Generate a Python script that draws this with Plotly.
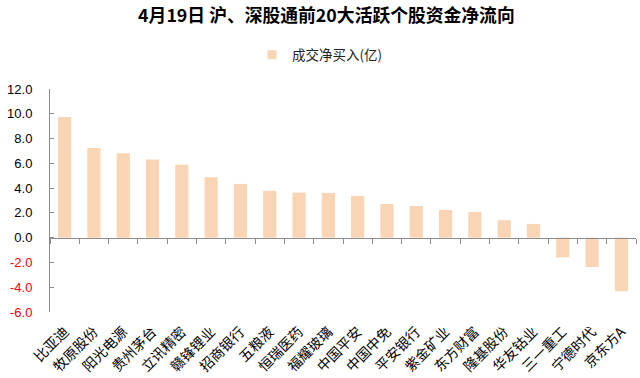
import plotly.graph_objects as go

categories = ["比亚迪", "牧原股份", "阳光电源", "贵州茅台", "立讯精密", "赣锋锂业", "招商银行",
              "五粮液", "恒瑞医药", "福耀玻璃", "中国平安", "中国中免", "平安银行", "紫金矿业",
              "东方财富", "隆基股份", "华友钴业", "三一重工", "宁德时代", "京东方A"]
net_buy = [9.73, 7.23, 6.82, 6.31, 5.88, 4.88, 4.34, 3.78, 3.64, 3.61, 3.37, 2.72, 2.56,
           2.24, 2.08, 1.41, 1.11, -1.59, -2.37, -4.33]
series_name = "成交净买入(亿)"
title_text = "4月19日 沪、深股通前20大活跃个股资金净流向"
y_tick_vals = [12, 10, 8, 6, 4, 2, 0, -2, -4, -6]
y_tick_text = ["12.0", "10.0", "8.0", "6.0", "4.0", "2.0", "0.0", "-2.0", "-4.0", "-6.0"]

bar_color = "#F9D5B5"
axis_color = "#8C8C8C"
cjk = "Noto Sans CJK SC"

ticktext = [t if v >= 0 else f'<span style="color:#FF0000">{t}</span>'
            for v, t in zip(y_tick_vals, y_tick_text)]

fig = go.Figure()
fig.add_trace(go.Bar(x=categories, y=net_buy, name=series_name, marker_color=bar_color,
                     marker_line_width=0, showlegend=False))
# legend entry + carrier for the zero-line axis (no visible points)
fig.add_trace(go.Scatter(x=categories, y=[None] * len(categories), xaxis="x2", mode="markers",
                         name=series_name, showlegend=True, hoverinfo="skip",
                         marker=dict(symbol="square", size=9, color=bar_color)))

n = len(categories)
fig.update_layout(
    width=640, height=378,
    margin=dict(l=50, r=4, t=89, b=66, autoexpand=False),
    paper_bgcolor="white", plot_bgcolor="white",
    bargap=0.55,
    title=dict(text=title_text, x=0.51, xref="container", xanchor="center",
               y=1 - 16 / 378, yref="container", yanchor="middle",
               font=dict(family=cjk, size=17.8, color="black", weight="bold")),
    legend=dict(orientation="h", x=0.5, xref="container", xanchor="center",
                y=1 - 55 / 378, yref="container", yanchor="middle",
                font=dict(family=cjk, size=13.5, color="#222222"), itemwidth=30),
    xaxis=dict(type="category", range=[-0.5, n - 0.5], showline=False, ticks="",
               showgrid=False, zeroline=False, automargin=False, tickangle=-45,
               ticklabelstandoff=8, tickfont=dict(family=cjk, size=14, color="black")),
    xaxis2=dict(type="category", overlaying="x", matches="x", anchor="free", position=1 / 3,
                side="bottom", showline=True, linecolor=axis_color, linewidth=1,
                ticks="outside", ticklen=5, tickcolor=axis_color, tickson="boundaries",
                showticklabels=False, showgrid=False, zeroline=False, automargin=False),
    yaxis=dict(range=[-6, 12], tickvals=y_tick_vals, ticktext=ticktext, showgrid=False,
               zeroline=False, showline=True, linecolor=axis_color, linewidth=1,
               ticks="inside", ticklen=4, tickcolor=axis_color, ticklabelstandoff=14,
               automargin=False,
               tickfont=dict(family="Liberation Sans, Arial", size=13, color="black")),
)

fig.write_html("out.html", config={"displayModeBar": False},
               post_script="document.body.style.margin='0px';")
